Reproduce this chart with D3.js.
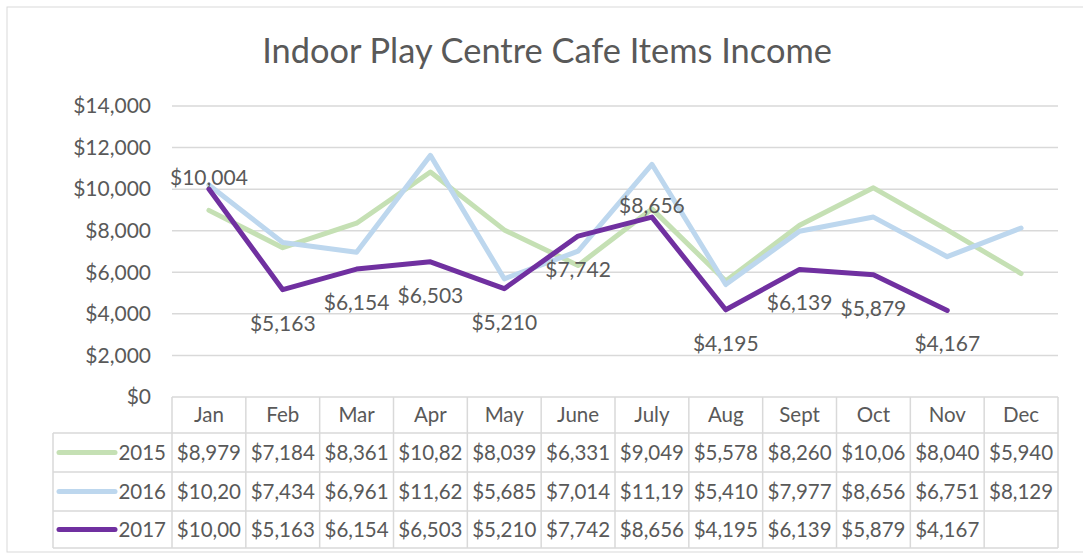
<!DOCTYPE html>
<html>
<head>
<meta charset="utf-8">
<script src="https://cdn.jsdelivr.net/npm/d3@7"></script>
<style>
  html, body { margin: 0; padding: 0; background: #fff; }
  svg { display: block; }
  text { font-family: Lato, "Open Sans", sans-serif; fill: #595959; }
</style>
</head>
<body>
<svg id="chart" width="1083" height="556"></svg>
<script>
const title = "Indoor Play Centre Cafe Items Income";
const months = ["Jan","Feb","Mar","Apr","May","June","July","Aug","Sept","Oct","Nov","Dec"];
const years = ["2015","2016","2017"];
const values2015 = [8979, 7184, 8361, 10823, 8039, 6331, 9049, 5578, 8260, 10062, 8040, 5940];
const values2016 = [10203, 7434, 6961, 11624, 5685, 7014, 11195, 5410, 7977, 8656, 6751, 8129];
const values2017 = [10004, 5163, 6154, 6503, 5210, 7742, 8656, 4195, 6139, 5879, 4167, null];
const yTicks = [0, 2000, 4000, 6000, 8000, 10000, 12000, 14000];
const labelPlacement2017 = ["above","below","below","below","below","below","above","below","below","below","below",null];

const seriesValues = [values2015, values2016, values2017];
const colors = ["#c5e0b4", "#bdd7ee", "#7030a0"];

const svg = d3.select("#chart");
const plotLeft = 172, plotRight = 1058, plotTop = 106, plotBottom = 397;
const tableLeft = 53;
const rowBounds = [397, 433, 472, 511, 548];
const grid = "#d9d9d9";
const fmt = d3.format("$,.0f");

// chart border
svg.append("rect").attr("x", 7).attr("y", 7).attr("width", 1100).attr("height", 545)
  .attr("fill", "#fff").attr("stroke", grid).attr("stroke-width", 1);

// title
svg.append("text").attr("x", 547).attr("y", 63).attr("text-anchor", "middle")
  .style("font-size", "34.4px").text(title);

const x = d3.scaleBand().domain(months).range([plotLeft, plotRight]).paddingInner(0).paddingOuter(0);
const xc = m => x(m) + x.bandwidth() / 2;
const y = d3.scaleLinear().domain([0, 14000]).range([plotBottom, plotTop]);

// gridlines
svg.append("g").selectAll("line").data(yTicks.filter(t => t > 0)).join("line")
  .attr("x1", plotLeft).attr("x2", plotRight)
  .attr("y1", d => y(d)).attr("y2", d => y(d))
  .attr("stroke", grid).attr("stroke-width", 1.5);

// y axis labels
svg.append("g").selectAll("text").data(yTicks).join("text")
  .attr("x", 151).attr("y", d => y(d)).attr("dy", "0.35em")
  .attr("text-anchor", "end").style("font-size", "21px")
  .text(d => fmt(d));

// lines
const line = d3.line().defined(d => d.v != null).x(d => xc(d.m)).y(d => y(d.v));
seriesValues.forEach((vals, i) => {
  svg.append("path")
    .datum(months.map((m, j) => ({ m, v: vals[j] })))
    .attr("d", line).attr("fill", "none")
    .attr("stroke", colors[i]).attr("stroke-width", 5)
    .attr("stroke-linejoin", "round").attr("stroke-linecap", "round");
});

// data labels for 2017
svg.append("g").selectAll("text")
  .data(months.map((m, j) => ({ m, v: values2017[j], p: labelPlacement2017[j] })).filter(d => d.v != null))
  .join("text")
  .attr("x", d => xc(d.m))
  .attr("y", d => y(d.v) + (d.p === "above" ? -4 : 41))
  .attr("text-anchor", "middle").style("font-size", "21px")
  .text(d => fmt(d.v));

// data table
const tg = svg.append("g");
tg.append("line").attr("x1", plotLeft).attr("x2", plotRight).attr("y1", rowBounds[0]).attr("y2", rowBounds[0]);
rowBounds.slice(1).forEach(yy => {
  tg.append("line").attr("x1", tableLeft).attr("x2", plotRight).attr("y1", yy).attr("y2", yy);
});
tg.append("line").attr("x1", tableLeft).attr("x2", tableLeft).attr("y1", rowBounds[1]).attr("y2", rowBounds[4]);
months.forEach(m => {
  tg.append("line").attr("x1", x(m)).attr("x2", x(m)).attr("y1", rowBounds[0]).attr("y2", rowBounds[4]);
});
tg.append("line").attr("x1", plotRight).attr("x2", plotRight).attr("y1", rowBounds[0]).attr("y2", rowBounds[4]);
tg.selectAll("line").attr("stroke", grid).attr("stroke-width", 1.5);

// header
tg.append("g").selectAll("text").data(months).join("text")
  .attr("x", d => xc(d)).attr("y", (rowBounds[0] + rowBounds[1]) / 2).attr("dy", "0.35em")
  .attr("text-anchor", "middle").style("font-size", "20.5px").text(d => d);

// rows
seriesValues.forEach((vals, i) => {
  const cy = (rowBounds[i + 1] + rowBounds[i + 2]) / 2;
  tg.append("line").attr("x1", 59).attr("x2", 115).attr("y1", cy).attr("y2", cy)
    .attr("stroke", colors[i]).attr("stroke-width", 5).attr("stroke-linecap", "round");
  tg.append("text").attr("x", 166).attr("y", cy).attr("dy", "0.35em")
    .attr("text-anchor", "end").style("font-size", "20.5px").text(years[i]);
  months.forEach((m, j) => {
    if (vals[j] == null) return;
    const t = tg.append("text").attr("x", xc(m)).attr("y", cy).attr("dy", "0.35em")
      .attr("text-anchor", "middle").style("font-size", "20.5px");
    let s = fmt(vals[j]);
    t.text(s);
    while (t.node().getComputedTextLength() > x.bandwidth() - 4 && s.length > 1) {
      s = s.slice(0, -1);
      t.text(s);
    }
  });
});
</script>
</body>
</html>
